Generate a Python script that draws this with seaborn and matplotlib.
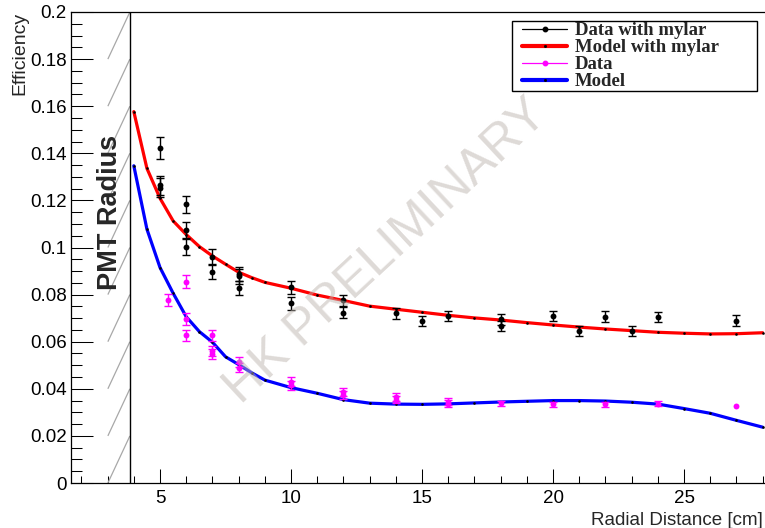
import numpy as np
import pandas as pd
import matplotlib
matplotlib.use("Agg")
import matplotlib.pyplot as plt
import seaborn as sns
from matplotlib.ticker import MultipleLocator, FixedLocator, FuncFormatter
from matplotlib.lines import Line2D
from matplotlib.collections import LineCollection
from matplotlib.font_manager import FontProperties
from matplotlib.legend_handler import HandlerLine2D

# ---- measured efficiency with mylar reflector ----
mylar_r = [5, 5, 5, 6, 6, 6, 7, 7, 8, 8, 8, 10, 10, 12, 12,
           14, 15, 16, 18, 18, 20, 21, 22, 23, 24, 27]
mylar_eff = [0.1424, 0.1265, 0.1254, 0.1183, 0.1074, 0.1002, 0.0961, 0.0895,
             0.0887, 0.0877, 0.0829, 0.0831, 0.0763, 0.0775, 0.0723,
             0.0720, 0.0688, 0.0709, 0.0696, 0.0667, 0.0709, 0.0645,
             0.0706, 0.0645, 0.0705, 0.0689]
mylar_err = [0.0047, 0.0040, 0.0040, 0.0037, 0.0034, 0.0033, 0.0031, 0.0030,
             0.0030, 0.0030, 0.0030, 0.0027, 0.0027, 0.0025, 0.0023,
             0.0023, 0.0022, 0.0023, 0.0023, 0.0022, 0.0023, 0.0022,
             0.0023, 0.0022, 0.0023, 0.0023]

# ---- measured efficiency, bare PMT ----
bare_r = [5.3, 6, 6, 6, 7, 7, 7, 8, 8, 10, 10, 12, 12, 14, 14,
          16, 16, 18, 20, 22, 24, 27]
bare_eff = [0.0776, 0.0855, 0.0696, 0.0628, 0.0627, 0.0561, 0.0547,
            0.0515, 0.0490, 0.0430, 0.0415, 0.0388, 0.0374, 0.0366, 0.0354,
            0.0345, 0.0337, 0.0338, 0.0335, 0.0335, 0.0337, 0.0327]
bare_err = [0.0026, 0.0027, 0.0025, 0.0023, 0.0023, 0.0021, 0.0021,
            0.0021, 0.0020, 0.0018, 0.0018, 0.0017, 0.0016, 0.0016, 0.0016,
            0.0015, 0.0015, 0.0010, 0.0011, 0.0011, 0.0010, 0.0000]

# ---- model predictions ----
model_r = [4.0, 4.5, 5.0, 5.5, 6.0, 6.5, 7.0, 7.5, 8.0, 8.5, 9, 10, 11, 12,
           13, 14, 15, 16, 17, 18, 19, 20, 21, 22, 23, 24, 25, 26, 27, 28]
model_mylar = [0.1577, 0.1336, 0.1209, 0.1113, 0.1055, 0.1004, 0.0964,
               0.0929, 0.0895, 0.0872, 0.0852, 0.0827, 0.0798, 0.0775,
               0.0751, 0.0738, 0.0725, 0.0712, 0.0701, 0.0692, 0.0681,
               0.0671, 0.0662, 0.0654, 0.0647, 0.0640, 0.0636, 0.0633,
               0.0634, 0.0638]
model_bare = [0.1347, 0.1078, 0.0915, 0.0806, 0.0706, 0.0643, 0.0598,
              0.0536, 0.0503, 0.0468, 0.0437, 0.0405, 0.0381, 0.0354,
              0.0339, 0.0335, 0.0334, 0.0336, 0.0340, 0.0344, 0.0347,
              0.0350, 0.0350, 0.0348, 0.0343, 0.0335, 0.0316, 0.0296,
              0.0266, 0.0237]

series_labels = ["Data with mylar", "Model with mylar", "Data", "Model"]
pmt_radius = 3.85

sns.set_style("ticks")
plt.rcParams['font.family'] = ['Liberation Sans', 'DejaVu Sans']

W, H = 765, 528
fig = plt.figure(figsize=(W / 100, H / 100), dpi=100)
ax = fig.add_axes([71 / W, 45 / H, 693 / W, 471 / H])
ax.set_facecolor("white")

# PMT edge and exclusion hatching
ax.axvline(pmt_radius, color="black", lw=1.0, zorder=2)
hatch_step = 0.02
segs = [[(pmt_radius - 0.84, y0), (pmt_radius, y0 + hatch_step)]
        for y0 in np.arange(0, 0.2 - 1e-9, hatch_step)]
ax.add_collection(LineCollection(segs, colors="#a8a8a8", linewidths=0.9, zorder=1))

# model curves
mdf = pd.DataFrame({"r": model_r, "mylar": model_mylar, "bare": model_bare})
sns.lineplot(data=mdf, x="r", y="mylar", color="#ff0000", lw=2.3,
             estimator=None, sort=False, ax=ax, zorder=3)
sns.lineplot(data=mdf, x="r", y="bare", color="#0000ff", lw=2.3,
             estimator=None, sort=False, ax=ax, zorder=3)
ax.plot(mdf["r"], mdf["mylar"], ls="none", marker="s", ms=0.8, color="black", zorder=4)
ax.plot(mdf["r"], mdf["bare"], ls="none", marker="s", ms=0.8, color="black", zorder=4)

# measured points (error bars only where an uncertainty is given)
ddf = pd.DataFrame({"r": mylar_r, "eff": mylar_eff, "err": mylar_err})
bdf = pd.DataFrame({"r": bare_r, "eff": bare_eff, "err": bare_err})
for df, col in [(ddf, "black"), (bdf, "#ff00ff")]:
    e = df[df["err"] > 0]
    ax.errorbar(e["r"], e["eff"], yerr=e["err"], fmt="none", ecolor=col,
                elinewidth=1.0, capsize=2.6, capthick=1.0, zorder=5)
    sns.scatterplot(data=df, x="r", y="eff", color=col, s=18, linewidth=0,
                    ax=ax, zorder=6, legend=False)

# axes
ax.set_xlim(1.603, 28.05)
ax.set_ylim(0, 0.2)
ax.set_xlabel("")
ax.set_ylabel("")
ax.xaxis.set_major_locator(FixedLocator([5, 10, 15, 20, 25]))
ax.xaxis.set_minor_locator(MultipleLocator(1))
ax.yaxis.set_major_locator(MultipleLocator(0.02))
ax.yaxis.set_minor_locator(MultipleLocator(0.005))
ax.yaxis.set_major_formatter(FuncFormatter(lambda v, p: "0" if abs(v) < 1e-12 else f"{v:g}"))
ax.tick_params(axis="both", which="both", direction="in", colors="black",
               width=0.75, labelsize=13.5)
ax.tick_params(axis="y", which="major", length=15.8, pad=3)
ax.tick_params(axis="y", which="minor", length=7.9)
ax.tick_params(axis="x", which="major", length=10, pad=5)
ax.tick_params(axis="x", which="minor", length=5)
for side in ["left", "bottom", "top"]:
    ax.spines[side].set_visible(True)
    ax.spines[side].set_color("black")
    ax.spines[side].set_linewidth(0.9)
ax.spines["right"].set_visible(False)

fig.text(20 / W, 1 - 12 / H, "Efficiency", rotation=90, ha="center", va="top",
         fontsize=14)
fig.text(763 / W, 1 - 525 / H, "Radial Distance [cm]", ha="right", va="baseline",
         fontsize=13.5)

ax.text(0.0556, 0.5743, "PMT Radius", transform=ax.transAxes, rotation=90,
        ha="center", va="center", fontsize=19.5, fontweight="bold", zorder=7)

# watermark
ax.text(0.4545, 0.4904, "HK PRELIMINARY", transform=ax.transAxes, rotation=43,
        rotation_mode="anchor", ha="center", va="center", fontsize=36,
        color="#bdb5af", alpha=0.5, zorder=10)

# legend
handles = [
    Line2D([], [], color="black", lw=0.9, marker="o", ms=3.2),
    Line2D([], [], color="#ff0000", lw=3.0, marker="s", ms=1.0, mfc="black", mec="black"),
    Line2D([], [], color="#ff00ff", lw=0.9, marker="o", ms=3.2),
    Line2D([], [], color="#0000ff", lw=3.0, marker="s", ms=1.0, mfc="black", mec="black"),
]
leg = fig.legend(handles, series_labels, loc="upper left",
                 bbox_to_anchor=(512 / W, 1 - 91 / H, 245 / W, 70 / H), mode="expand",
                 prop=FontProperties(family="Liberation Serif", weight="bold", size=13.5),
                 frameon=True, fancybox=False, edgecolor="black", framealpha=1,
                 borderaxespad=0, labelspacing=0.0, handlelength=2.9,
                 handletextpad=0.4, borderpad=0.05,
                 handler_map={Line2D: HandlerLine2D(xpad=0.5)})
leg.get_frame().set_linewidth(1.0)

fig.savefig("out.png", dpi=100, facecolor="white")
